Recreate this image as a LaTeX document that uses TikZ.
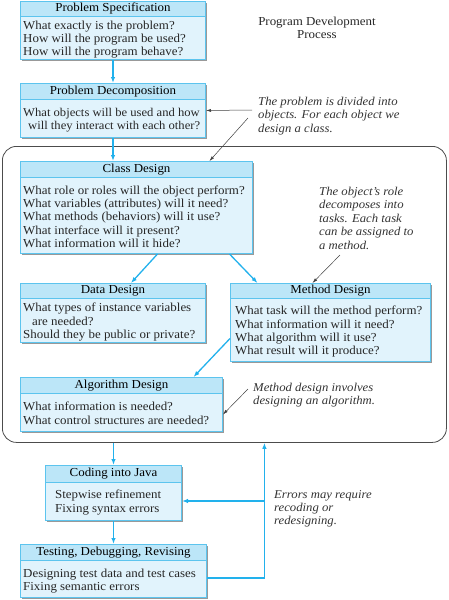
\documentclass[tikz,border=0pt]{standalone}
\usepackage{fontspec}
\setmainfont[FakeStretch=1.06]{Liberation Serif}
\usepackage{xcolor}
\usetikzlibrary{arrows.meta,shadows}
\definecolor{boxline}{HTML}{5CC4EE}
\definecolor{boxfill}{HTML}{E1F3FC}
\definecolor{barfill}{HTML}{BCE6F8}
\definecolor{flowcol}{HTML}{22B1EC}
\begin{document}
\begin{tikzpicture}[x=1pt,y=-1pt,
    every node/.style={font=\fontsize{12.2}{13.3}\selectfont},
    box/.style={draw=boxline,fill=boxfill,line width=1pt,anchor=north west,inner sep=0pt,
        drop shadow={shadow xshift=1.5pt,shadow yshift=-1.5pt,fill=black!40,opacity=1}},
    bar/.style={draw=boxline,fill=barfill,line width=1pt,anchor=north west,inner sep=0pt},
    lines/.style={anchor=north west,inner sep=0pt,align=left,text=black!85},
    note/.style={anchor=north west,inner sep=0pt,align=left,font=\fontsize{12}{13.4}\selectfont\itshape,text=black!80},
    flow/.style={draw=flowcol,line width=1.3pt,-{Latex[length=6pt,width=4.5pt]}},
    hint/.style={draw=black!75,line width=0.5pt,-{Latex[length=5pt,width=3pt]}}]

    \useasboundingbox (0,0) rectangle (448,600);

    % outer frame round the design steps
    \node[draw=black!70,line width=0.8pt,rounded corners=14pt,anchor=north west,inner sep=0pt,
        minimum width=444pt,minimum height=296pt] (frame) at (2,146){};

    % boxes
    \node[box,minimum width=185pt,minimum height=58pt] (spec) at (20,1){};
    \node[bar,minimum width=185pt,minimum height=15pt] (spect) at (spec.north west){Problem Specification};
    \node[lines] (specl) at (23,20.5){What exactly is the problem?\\How will the program be used?\\How will the program behave?};

    \node[box,minimum width=185pt,minimum height=54pt] (decomp) at (20,83){};
    \node[bar,minimum width=185pt,minimum height=16pt] (decompt) at (decomp.north west){Problem Decomposition};
    \node[lines,font=\fontsize{11.9}{13.3}\selectfont] (decompl) at (23,108){What objects will be used and how\\\hspace{5pt}will they interact with each other?};

    \node[box,minimum width=232pt,minimum height=92pt] (class) at (20,161){};
    \node[bar,minimum width=232pt,minimum height=16pt] (classt) at (class.north west){Class Design};
    \node[lines] (classl) at (23,185.5){What role or roles will the object perform?\\What variables (attributes) will it need?\\What methods (behaviors) will it use?\\What interface will it present?\\What information will it hide?};

    \node[box,minimum width=185pt,minimum height=59pt] (data) at (20,283){};
    \node[bar,minimum width=185pt,minimum height=15pt] (datat) at (data.north west){Data Design};
    \node[lines] (datal) at (23,303){What types of instance variables\\\hspace{9pt}are needed?\\Should they be public or private?};

    \node[box,minimum width=200pt,minimum height=78pt] (method) at (230,283){};
    \node[bar,minimum width=200pt,minimum height=15pt] (methodt) at (method.north west){Method Design};
    \node[lines] (methodl) at (235,306){What task will the method perform?\\What information will it need?\\What algorithm will it use?\\What result will it produce?};

    \node[box,minimum width=202pt,minimum height=54pt] (algo) at (20,377){};
    \node[bar,minimum width=202pt,minimum height=16pt] (algot) at (algo.north west){Algorithm Design};
    \node[lines] (algol) at (23,402){What information is needed?\\What control structures are needed?};

    \node[box,minimum width=136pt,minimum height=55pt] (coding) at (45,465){};
    \node[bar,minimum width=136pt,minimum height=17pt] (codingt) at (coding.north west){Coding into Java};
    \node[lines] (codingl) at (55,490){Stepwise refinement\\Fixing syntax errors};

    \node[box,minimum width=186pt,minimum height=53pt] (test) at (20,544){};
    \node[bar,minimum width=186pt,minimum height=16pt] (testt) at (test.north west){Testing, Debugging, Revising};
    \node[lines] (testl) at (23,569){Designing test data and test cases\\Fixing semantic errors};

    % notes
    \node[anchor=north,inner sep=0pt,align=center,text=black!85] (title) at (317,17){Program Development\\Process};
    \node[note] (note1) at (258,97){The problem is divided into\\objects. For each object we\\design a class.};
    \node[note] (note2) at (319,187){The object's role\\decomposes into\\tasks. Each task\\can be assigned to\\a method.};
    \node[note] (note3) at (253,383){Method design involves\\designing an algorithm.};
    \node[note] (note4) at (274,490){Errors may require\\recoding or\\redesigning.};

    % flow
    \draw[flow] (spec.south) -- (decompt.north);
    \draw[flow] (decomp.south) -- (decomp.south |- class.north);
    \draw[flow] ([xshift=21pt]class.south) -- ([xshift=18pt]data.north);
    \draw[flow] ([xshift=93pt]class.south) -- ([xshift=-73pt]method.north);
    \draw[flow] ([yshift=-16pt]method.west) -- ([xshift=72pt]algo.north);
    \draw[flow] (frame.south -| coding.north) -- (coding.north);
    \draw[flow] (coding.south) -- (test.north);
    \draw[flow] ([yshift=-7pt]test.east) -| ([xshift=40pt]frame.south);
    \coordinate (split) at (264,501);
    \draw[flow] (split) -- (split -| coding.east);

    % hints
    \coordinate (h1) at (252,110);
    \coordinate (h2) at (248,118);
    \coordinate (h3) at (340,255);
    \coordinate (h4) at (248,389);
    \draw[hint] (h1) -- (decomp.east);
    \draw[hint] (h2) -- ([xshift=73pt]class.north);
    \draw[hint] (h3) -- ([xshift=-18pt]method.north);
    \draw[hint] (h4) -- ([yshift=-10pt]algo.east);

\end{tikzpicture}
\end{document}
